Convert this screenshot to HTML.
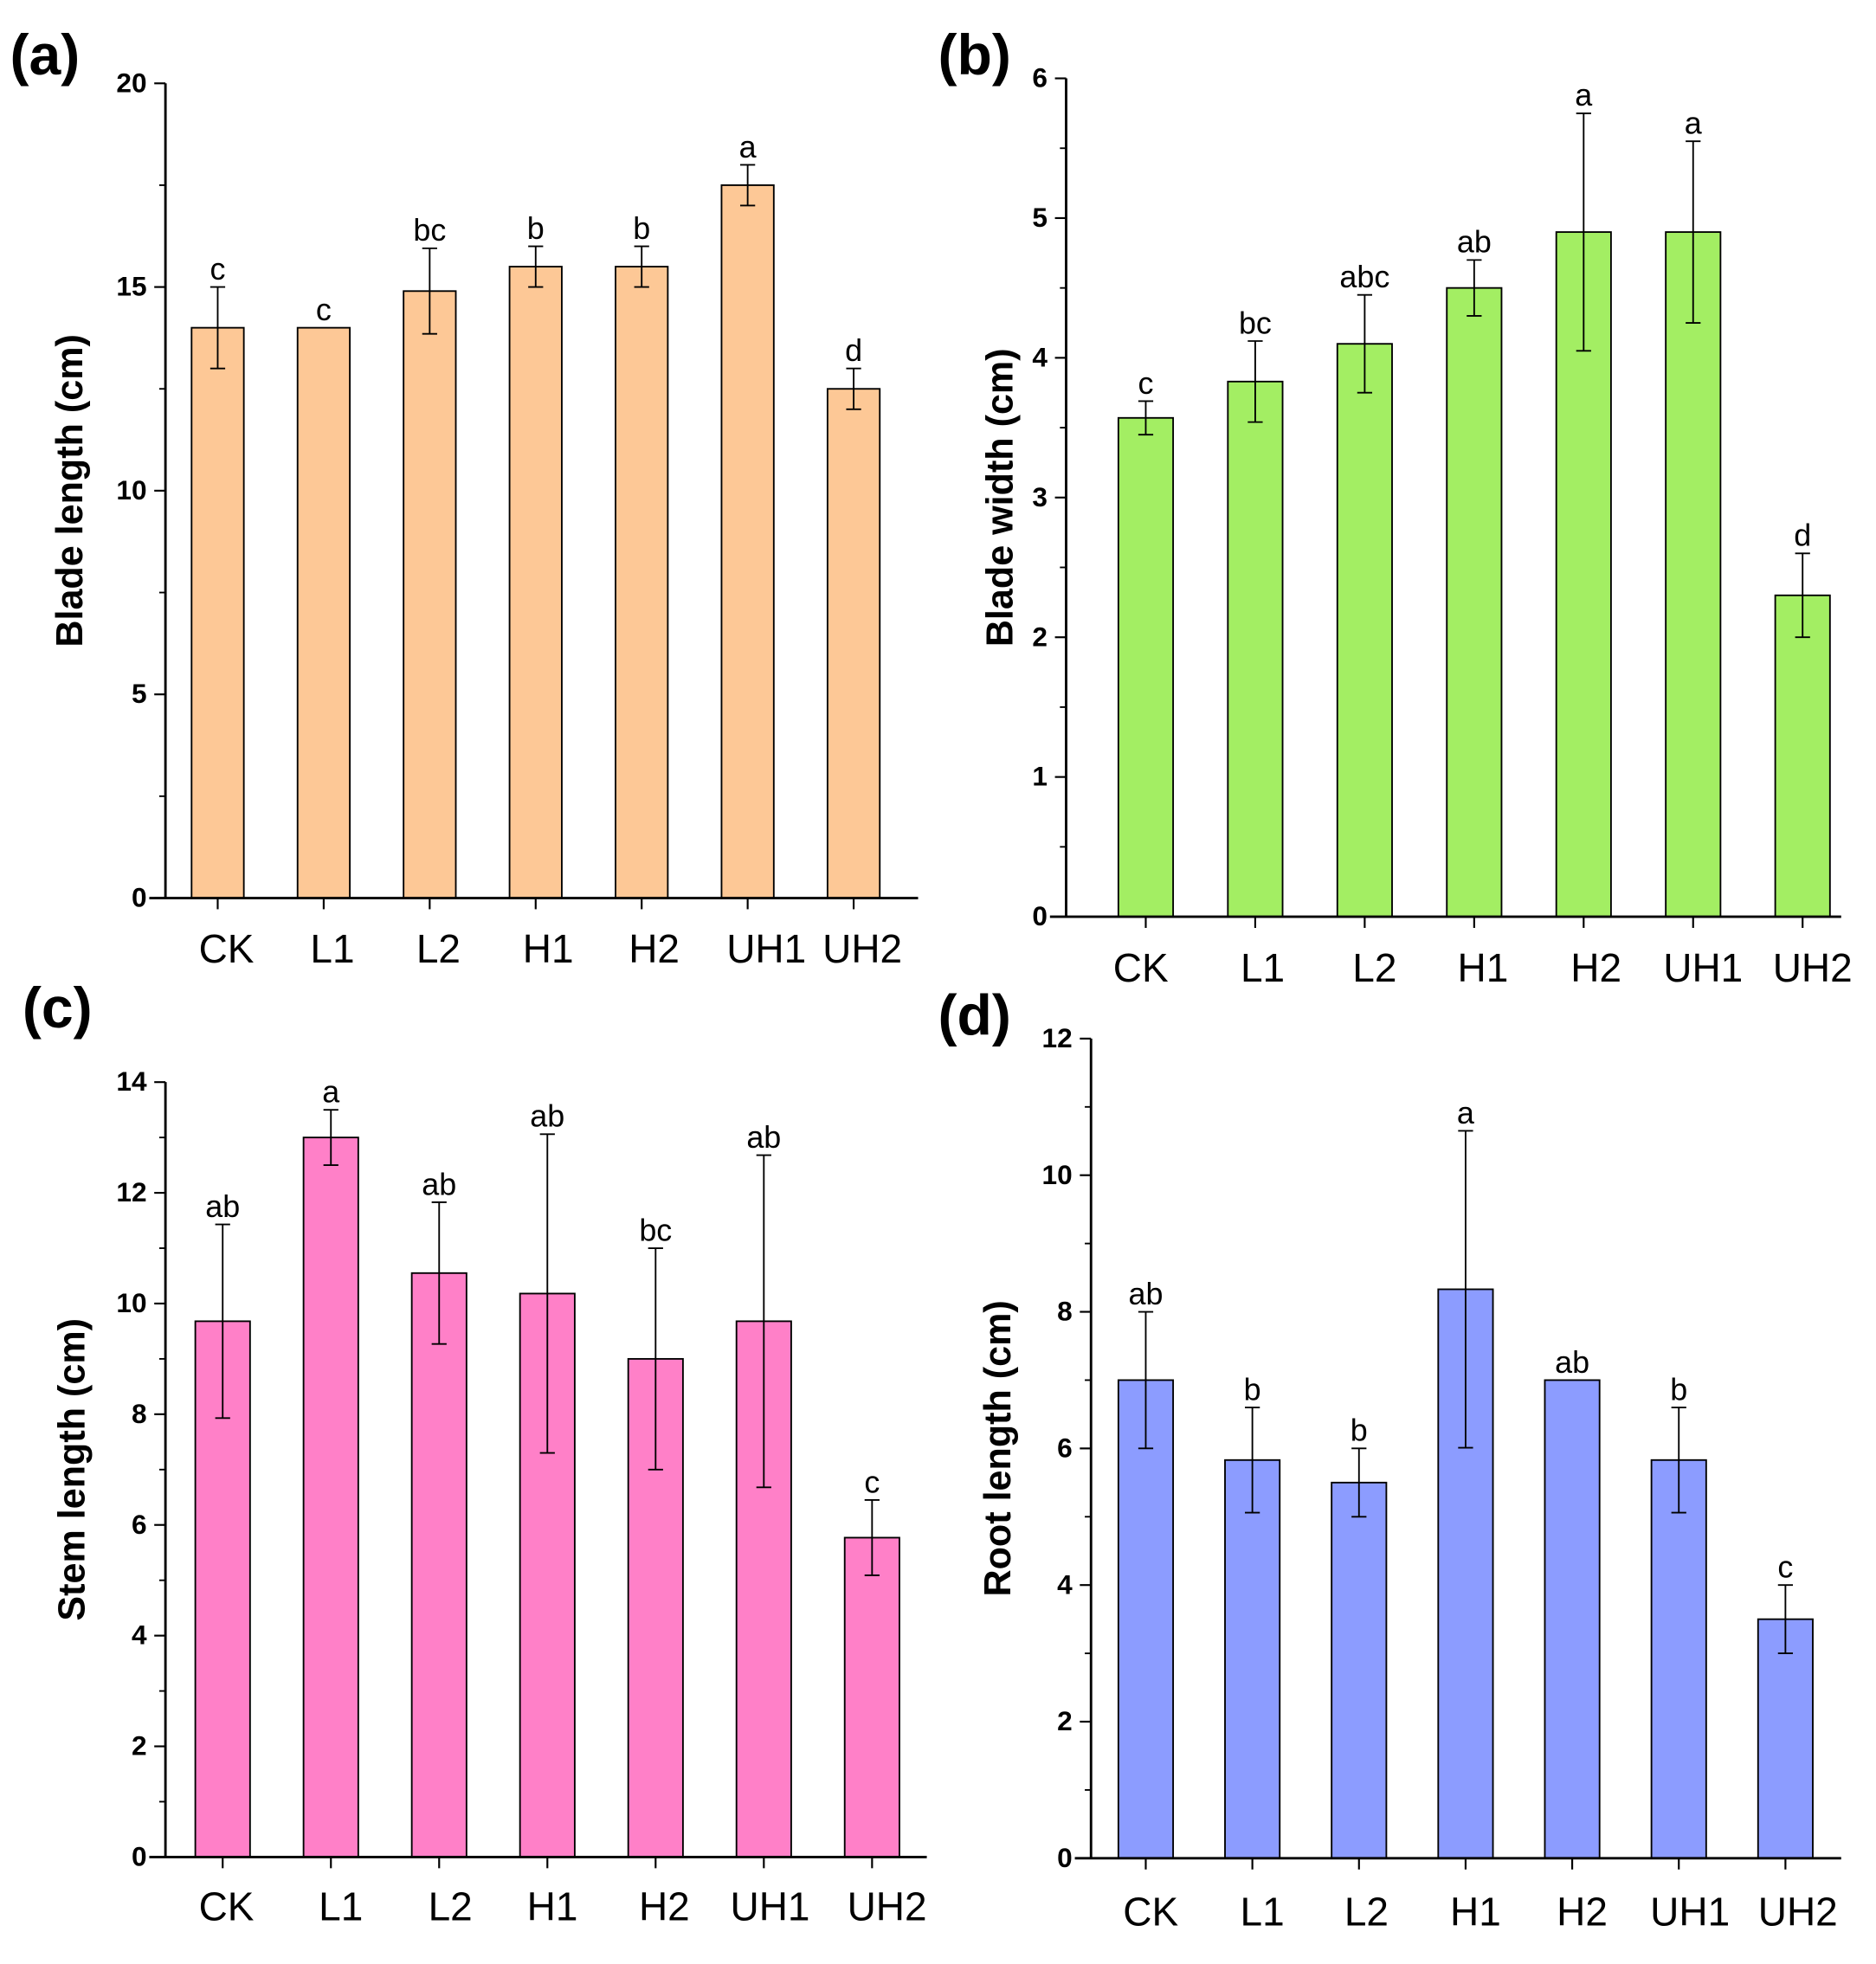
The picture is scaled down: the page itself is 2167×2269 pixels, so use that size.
<!DOCTYPE html>
<html><head><meta charset="utf-8"><style>
html,body{margin:0;padding:0;background:#fff}
svg{display:block}
text{font-family:"Liberation Sans",Arial,sans-serif}
</style></head><body>
<svg id="fig" width="2167" height="2269" viewBox="0 0 1508 1579" preserveAspectRatio="none" xmlns="http://www.w3.org/2000/svg"></svg>
<script>
const categories = ["CK","L1","L2","H1","H2","UH1","UH2"];
const valuesA = [14, 14, 14.9, 15.5, 15.5, 17.5, 12.5];
const errA = [1, 0, 1.05, 0.5, 0.5, 0.5, 0.5];
const lettersA = ["c","c","bc","b","b","a","d"];
const ticksA = [0,5,10,15,20];
const valuesB = [3.57, 3.83, 4.1, 4.5, 4.9, 4.9, 2.3];
const errB = [0.12, 0.29, 0.35, 0.2, 0.85, 0.65, 0.3];
const lettersB = ["c","bc","abc","ab","a","a","d"];
const ticksB = [0,1,2,3,4,5,6];
const valuesC = [9.68, 13, 10.55, 10.18, 9, 9.68, 5.77];
const errC = [1.75, 0.5, 1.28, 2.88, 2, 3, 0.68];
const lettersC = ["ab","a","ab","ab","bc","ab","c"];
const ticksC = [0,2,4,6,8,10,12,14];
const valuesD = [7, 5.83, 5.5, 8.33, 7, 5.83, 3.5];
const errD = [1, 0.77, 0.5, 2.32, 0, 0.77, 0.5];
const lettersD = ["ab","b","b","a","ab","b","c"];
const ticksD = [0,2,4,6,8,10,12];

const NS="http://www.w3.org/2000/svg";
const svg=document.getElementById('fig');
function mk(tag,attrs,parent){const e=document.createElementNS(NS,tag);for(const k in attrs)e.setAttribute(k,attrs[k]);(parent||svg).appendChild(e);return e;}

function panel(cfg){
  const g=mk('g',{});
  
  
  const y=v=>cfg.y0-(v-0)/(cfg.ymax)*(cfg.y0-cfg.ytop);
  const xc=i=>cfg.x0c+i*cfg.dx;
  cfg.vals.forEach((v,i)=>{
    const r=mk('rect',{x:xc(i)-cfg.bw/2,y:y(v),width:cfg.bw,height:cfg.y0-y(v),fill:cfg.color,stroke:'#000','stroke-width':1.3},g);
    
    
    const e=cfg.err[i];
    if(e>0){
      const eb=mk('path',{d:`M${xc(i)} ${y(v+e)}V${y(v-e)}M${xc(i)-6} ${y(v+e)}h12M${xc(i)-6} ${y(v-e)}h12`,stroke:'#000','stroke-width':1.3,fill:'none'},g);
      
      
    }
    const t=mk('text',{x:xc(i),y:y(v+e)-6,'text-anchor':'middle','font-size':25,fill:'#000'},g);
    t.textContent=cfg.letters[i];
    
    
    const tk=mk('line',{x1:xc(i),x2:xc(i),y1:cfg.y0,y2:cfg.y0+9,stroke:'#000','stroke-width':1.5},g);
    
    
    const xl=mk('text',{x:xc(i)+cfg.lblOff[i],y:cfg.xly,'text-anchor':'middle','font-size':32,fill:'#000'},g);
    xl.textContent=categories[i];
    
    
  });
  const ax=mk('path',{d:`M${cfg.ax} ${cfg.ytop}V${cfg.y0}M${cfg.ax-13} ${cfg.y0}H${cfg.xend}`,stroke:'#000','stroke-width':2,fill:'none'},g);
  
  
  const step=cfg.ticks[1]-cfg.ticks[0];
  cfg.ticks.forEach((tv,j)=>{
    const l=mk('line',{x1:cfg.ax-9,x2:cfg.ax,y1:y(tv),y2:y(tv),stroke:'#000','stroke-width':1.5},g);
    
    
    const t=mk('text',{x:cfg.ax-15,y:y(tv)+7,'text-anchor':'end','font-size':22,'font-weight':'bold',fill:'#000'},g);
    t.textContent=tv;
    
    
    const mv=tv+step/2;
    if(mv<=cfg.ymax){
      const m=mk('line',{x1:cfg.ax-5,x2:cfg.ax,y1:y(mv),y2:y(mv),stroke:'#000','stroke-width':1.3},g);
      
      
    }
  });
  const yt=mk('text',{x:0,y:0,transform:`translate(${cfg.ytx},${(cfg.y0+cfg.ytop)/2}) rotate(-90)`,'text-anchor':'middle','font-size':30,'font-weight':'bold',fill:'#000'},g);
  yt.textContent=cfg.ytitle;
  
  
  const pl=mk('text',{x:cfg.plx,y:cfg.ply,'font-size':46,'font-weight':'bold',fill:'#000'},g);
  pl.textContent='('+cfg.id+')';
  
  
}
panel({id:'a',vals:valuesA,err:errA,letters:lettersA,ticks:ticksA,ymax:20,y0:722,ytop:67,ax:133,x0c:175,dx:85.2,bw:42,xend:738,color:'#FDC896',xly:774,lblOff:[7,7,7,10,10,15,7],ytitle:'Blade length (cm)',ytx:66,plx:8,ply:60});
panel({id:'b',vals:valuesB,err:errB,letters:lettersB,ticks:ticksB,ymax:6,y0:737,ytop:63,ax:857,x0c:921,dx:88,bw:44,xend:1480,color:'#A3EE63',xly:789,lblOff:[-4,6,8,7,10,8,8],ytitle:'Blade width (cm)',ytx:814,plx:754,ply:60});
panel({id:'c',vals:valuesC,err:errC,letters:lettersC,ticks:ticksC,ymax:14,y0:1493,ytop:870,ax:133,x0c:179,dx:87,bw:44,xend:745,color:'#FF80C8',xly:1544,lblOff:[3,8,9,4,7,5,12],ytitle:'Stem length (cm)',ytx:68,plx:18,ply:826});
panel({id:'d',vals:valuesD,err:errD,letters:lettersD,ticks:ticksD,ymax:12,y0:1494,ytop:835,ax:877,x0c:921,dx:85.7,bw:44,xend:1480,color:'#8C9CFF',xly:1548,lblOff:[4,8,6,8,8,9,10],ytitle:'Root length (cm)',ytx:812,plx:754,ply:832});
</script>
</body></html>
